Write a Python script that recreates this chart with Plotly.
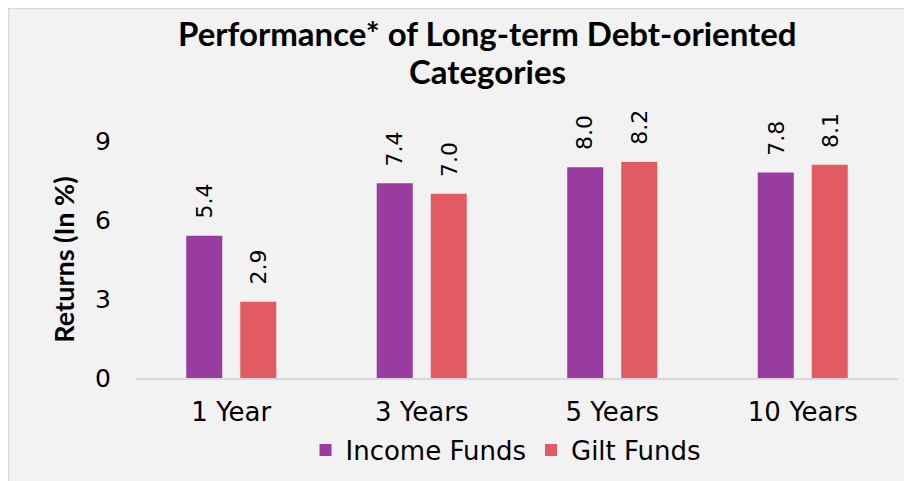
import plotly.graph_objects as go

categories = ["1 Year", "3 Years", "5 Years", "10 Years"]
income_funds = [5.4, 7.4, 8.0, 7.8]
gilt_funds = [2.9, 7.0, 8.2, 8.1]
y_ticks = [0, 3, 6, 9]
title_lines = ["Performance* of Long-term Debt-oriented", "Categories"]

# page body has an 8px default margin, so the figure is drawn from (8, 8)
OFF = 8
W, H = 912 - OFF, 481 - OFF
ml, mr, mt, mb = 136 - OFF, 14, 141 - OFF, 103
pw, ph = W - ml - mr, H - mt - mb

def px_x(x):
    return (x - OFF - ml) / pw

def px_y(y):
    return (H - mb - (y - OFF)) / ph

bold_font = "Lato, 'Open Sans', sans-serif"
reg_font = "'DejaVu Sans', sans-serif"

fig = go.Figure()
fig.add_trace(go.Bar(
    name="Income Funds", x=categories, y=income_funds,
    marker=dict(color="#9A3C9F", line=dict(width=0)),
))
fig.add_trace(go.Bar(
    name="Gilt Funds", x=categories, y=gilt_funds,
    marker=dict(color="#E35B62", line=dict(width=0)),
))

for series, shift in ((income_funds, -27), (gilt_funds, 27)):
    for cat, v in zip(categories, series):
        fig.add_annotation(
            x=cat, y=v, xref="x", yref="y", text=f"{v:.1f}", showarrow=False,
            textangle=-90, xshift=shift, yshift=15, yanchor="bottom", xanchor="center",
            font=dict(size=22, family=reg_font, color="#000000"),
        )

for line, yc in zip(title_lines, (33, 71)):
    fig.add_annotation(
        text=f"<b>{line}</b>",
        xref="paper", yref="paper", x=px_x(487), y=px_y(yc),
        xanchor="center", yanchor="middle", showarrow=False,
        font=dict(size=33, family=bold_font, color="#000000"),
    )

# thin border on the left and top edges
fig.add_shape(type="line", xref="paper", yref="paper",
              x0=px_x(OFF + 0.5), x1=px_x(OFF + 0.5), y0=px_y(481), y1=px_y(OFF + 0.5),
              line=dict(color="#D9D9D9", width=1.5), layer="below")
fig.add_shape(type="line", xref="paper", yref="paper",
              x0=px_x(OFF), x1=px_x(912), y0=px_y(OFF + 0.5), y1=px_y(OFF + 0.5),
              line=dict(color="#D9D9D9", width=1.5), layer="below")

fig.update_layout(
    width=W, height=H,
    margin=dict(l=ml, r=mr, t=mt, b=mb, autoexpand=False),
    paper_bgcolor="#F2F2F2", plot_bgcolor="rgba(0,0,0,0)",
    barmode="group", bargap=0.433, bargroupgap=1/3,
    font=dict(family=reg_font, color="#000000"),
    xaxis=dict(
        automargin=False,
        showline=True, linecolor="#D9D9D9", linewidth=1.5,
        tickfont=dict(size=26, color="#000000", family=reg_font), ticks="",
        ticklabelstandoff=10,
        showgrid=False,
    ),
    yaxis=dict(
        automargin=False,
        range=[0, 9], tickvals=y_ticks, showgrid=False, zeroline=False,
        tickfont=dict(size=25, color="#000000", family=reg_font), ticks="", ticklabelstandoff=24,
        title=dict(text="<b>Returns (In %)</b>", font=dict(size=27, color="#000000", family=bold_font), standoff=12),
    ),
    legend=dict(
        orientation="h", x=px_x(506), xanchor="center", y=px_y(450), yanchor="middle",
        font=dict(size=26, color="#000000", family=reg_font), bgcolor="rgba(0,0,0,0)",
        itemwidth=30, tracegroupgap=0,
    ),
)

fig.write_html("out.html")
